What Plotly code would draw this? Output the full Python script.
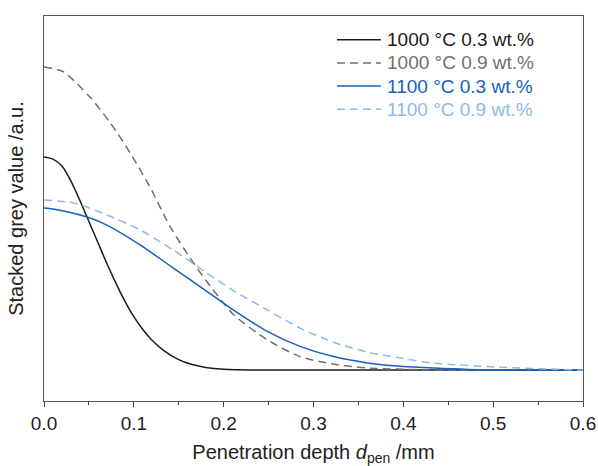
import plotly.graph_objects as go

d_1000_03 = [0.0, 0.01, 0.02, 0.03, 0.04, 0.05, 0.06, 0.07, 0.08, 0.09, 0.1, 0.11, 0.12,
             0.133, 0.15, 0.163, 0.18, 0.2, 0.25, 0.6]
g_1000_03 = [0.71, 0.703, 0.68, 0.63, 0.565, 0.495, 0.425, 0.355, 0.29, 0.23, 0.178, 0.135, 0.10,
             0.066, 0.035, 0.02, 0.009, 0.003, 0.0, 0.0]

d_1000_09 = [0.0, 0.021, 0.051, 0.074, 0.096, 0.118, 0.14, 0.163, 0.182, 0.211, 0.249, 0.285, 0.322, 0.36, 0.45, 0.6]
g_1000_09 = [1.01, 0.995, 0.91, 0.823, 0.723, 0.61, 0.48, 0.372, 0.292, 0.185, 0.10, 0.045, 0.02, 0.007, 0.0, 0.0]

d_1100_03 = [0.0, 0.018, 0.048, 0.07, 0.107, 0.144, 0.18, 0.211, 0.249, 0.285, 0.322, 0.36, 0.397, 0.434, 0.5, 0.6]
g_1100_03 = [0.54, 0.533, 0.51, 0.483, 0.417, 0.34, 0.265, 0.20, 0.128, 0.079, 0.045, 0.024, 0.013, 0.007, 0.0, 0.0]

d_1100_09 = [0.0, 0.033, 0.07, 0.107, 0.144, 0.178, 0.211, 0.249, 0.285, 0.322, 0.36, 0.397, 0.434, 0.505, 0.6]
g_1100_09 = [0.567, 0.557, 0.517, 0.467, 0.40, 0.33, 0.265, 0.20, 0.14, 0.093, 0.06, 0.04, 0.023, 0.01, 0.0]

names = ['1000 °C 0.3 wt.%', '1000 °C 0.9 wt.%', '1100 °C 0.3 wt.%', '1100 °C 0.9 wt.%']
colors = ['#1a1a1a', '#707070', '#1560bd', '#8cbbe8']
dashes = ['solid', '8px,5px', 'solid', '8px,5px']
xs = [d_1000_03, d_1000_09, d_1100_03, d_1100_09]
ys = [g_1000_03, g_1000_09, g_1100_03, g_1100_09]

fig = go.Figure()
for name, x, y, col, dash in zip(names, xs, ys, colors, dashes):
    fig.add_trace(go.Scatter(
        x=x, y=y, mode='lines', name=name, showlegend=False,
        line=dict(color=col, width=1.5, dash=dash, shape='spline', smoothing=0.7),
    ))

# hand-built legend (tighter rows, coloured labels)
row_y = [0.938, 0.878, 0.818, 0.758]
for name, col, dash, ry in zip(names, colors, dashes, row_y):
    fig.add_shape(type='line', xref='paper', yref='paper',
                  x0=0.5436, x1=0.625, y0=ry, y1=ry,
                  line=dict(color=col, width=1.5, dash=dash))
    fig.add_annotation(xref='paper', yref='paper', x=0.632, y=ry,
                       xanchor='left', yanchor='middle', showarrow=False,
                       text=name, font=dict(size=19, color=col))

fig.update_layout(
    width=598, height=466,
    margin=dict(l=44, r=15, t=16, b=65),
    paper_bgcolor='white', plot_bgcolor='white',
    font=dict(family='Liberation Sans, Arial', size=19, color='#222'),
    showlegend=False,
)
fig.update_xaxes(
    range=[0, 0.6], dtick=0.1, tickformat='.1f',
    ticks='outside', ticklen=5, tickcolor='#444',
    minor=dict(dtick=0.05, ticks='outside', ticklen=3, tickcolor='#444'),
    showline=True, linecolor='#555', linewidth=1, mirror=True,
    showgrid=False, zeroline=False, automargin=False,
    tickfont=dict(size=19),
    title=dict(text='Penetration depth <i>d</i><sub>pen</sub> /mm', font=dict(size=20), standoff=15),
)
fig.update_yaxes(
    range=[-0.103, 1.18], showticklabels=False, ticks='',
    showline=True, linecolor='#555', linewidth=1, mirror=True,
    showgrid=False, zeroline=False, automargin=False,
    title=dict(text='Stacked grey value /a.u.', font=dict(size=20), standoff=14),
)

# drop the browser's default body margin so the figure sits at the page corner
fig.write_html('out.html', config={'displayModeBar': False},
               post_script="document.body.style.margin='0';")
